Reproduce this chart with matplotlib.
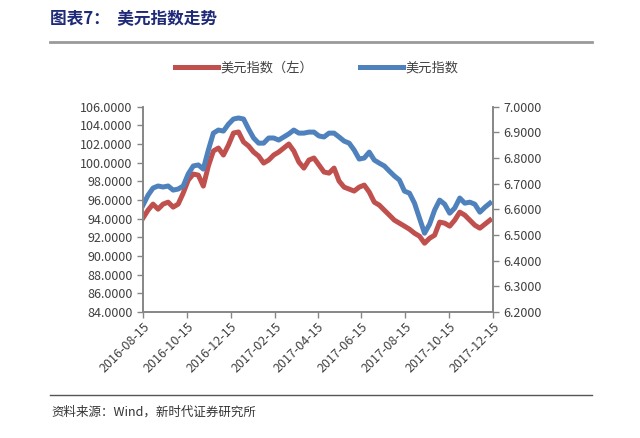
#!/usr/bin/env python3

import numpy as np
import pandas as pd
import matplotlib
matplotlib.use( 'Agg' )
import matplotlib.pyplot as plt
import matplotlib.dates as mdates
from matplotlib.ticker import FormatStrFormatter

plt.rcParams['font.family'] = [ 'Noto Sans CJK SC', 'DejaVu Sans' ]

# weekly samples
dates = pd.date_range( '2016-08-15', periods = 70, freq = '7D' )

usd_left = [ 94.06, 94.91, 95.56, 95.02, 95.56, 95.77, 95.24, 95.56, 96.74, 98.13,
             98.78, 98.67, 97.49, 99.64, 101.25, 101.57, 100.82, 101.89, 103.18, 103.29,
             102.22, 101.79, 101.14, 100.71, 99.96, 100.28, 100.82, 101.14, 101.57, 102.00,
             101.25, 100.07, 99.42, 100.28, 100.50, 99.75, 99.00, 98.88, 99.42, 98.03,
             97.38, 97.17, 96.96, 97.38, 97.60, 96.85, 95.77, 95.45, 94.91, 94.38,
             93.84, 93.52, 93.20, 92.87, 92.44, 92.12, 91.37, 91.90, 92.23, 93.63,
             93.52, 93.20, 93.84, 94.70, 94.38, 93.84, 93.30, 92.98, 93.41, 93.84 ]

usd_right = [ 6.616, 6.655, 6.683, 6.691, 6.687, 6.691, 6.675, 6.679, 6.691, 6.738,
              6.769, 6.773, 6.757, 6.831, 6.897, 6.909, 6.905, 6.932, 6.952, 6.956,
              6.952, 6.913, 6.878, 6.858, 6.858, 6.878, 6.878, 6.870, 6.882, 6.894,
              6.909, 6.897, 6.897, 6.901, 6.901, 6.886, 6.882, 6.897, 6.897, 6.882,
              6.866, 6.858, 6.831, 6.796, 6.800, 6.823, 6.792, 6.780, 6.769, 6.749,
              6.730, 6.714, 6.671, 6.663, 6.624, 6.565, 6.507, 6.542, 6.597, 6.636,
              6.620, 6.585, 6.605, 6.644, 6.624, 6.628, 6.620, 6.589, 6.608, 6.624 ]

xticks = [ '2016-08-15', '2016-10-15', '2016-12-15', '2017-02-15', '2017-04-15',
           '2017-06-15', '2017-08-15', '2017-10-15', '2017-12-15' ]

label_left = '美元指数（左）'
label_right = '美元指数'
title = '图表7：  美元指数走势'
source = '资料来源：Wind，新时代证券研究所'

red = '#c0504d'
blue = '#4f81bd'
grey = '#868686'
txt = '#404040'

fig = plt.figure( figsize = ( 6.40, 4.38 ), dpi = 100 )
ax = fig.add_axes( [ 0.2234, 0.2877, 0.5466, 0.4687 ] )
ax2 = ax.twinx()

l1, = ax.plot( dates, usd_left, color = red, lw = 3.6, solid_joinstyle = 'round' )
l2, = ax2.plot( dates, usd_right, color = blue, lw = 3.6, solid_joinstyle = 'round' )

ax.set_ylim( 84, 106 )
ax.set_yticks( np.arange( 84, 106.1, 2 ) )
ax2.set_ylim( 6.2, 7.0 )
ax2.set_yticks( np.arange( 6.2, 7.001, 0.1 ) )
ax.yaxis.set_major_formatter( FormatStrFormatter( '%.4f' ) )
ax2.yaxis.set_major_formatter( FormatStrFormatter( '%.4f' ) )

xt = pd.to_datetime( xticks )
ax.set_xlim( xt[0], xt[-1] )
ax.set_xticks( xt )
ax.set_xticklabels( xticks )
for lab in ax.get_xticklabels():
    lab.set_rotation( 45 )
    lab.set_ha( 'right' )
    lab.set_rotation_mode( 'anchor' )

for a in ( ax, ax2 ):
    a.spines['top'].set_visible( False )
    for s in ( 'left', 'right', 'bottom' ):
        a.spines[s].set_color( grey )
        a.spines[s].set_linewidth( 1.2 )
    a.tick_params( axis = 'both', direction = 'out', length = 4, width = 1.0,
                   color = grey, labelcolor = txt, labelsize = 9 )
ax.tick_params( axis = 'x', pad = 2 )

fig.legend( [ l1, l2 ], [ label_left, label_right ], loc = 'center',
            bbox_to_anchor = ( 0.495, 0.845 ), ncol = 2, frameon = False,
            fontsize = 9.5, handlelength = 3.3, handletextpad = 0.2,
            columnspacing = 3.5, labelcolor = txt )

fig.text( 0.078, 0.957, title, fontsize = 12, fontweight = 'bold',
          color = '#1f2a78', va = 'center' )
fig.add_artist( plt.Line2D( [ 0.078, 0.925 ], [ 0.905, 0.905 ],
                            color = '#9a9a9a', lw = 2 ) )
fig.add_artist( plt.Line2D( [ 0.078, 0.925 ], [ 0.098, 0.098 ],
                            color = '#555555', lw = 1 ) )
fig.text( 0.08, 0.06, source, fontsize = 9, color = '#333333', va = 'center' )

plt.savefig( 'out.png', dpi = 100 )
